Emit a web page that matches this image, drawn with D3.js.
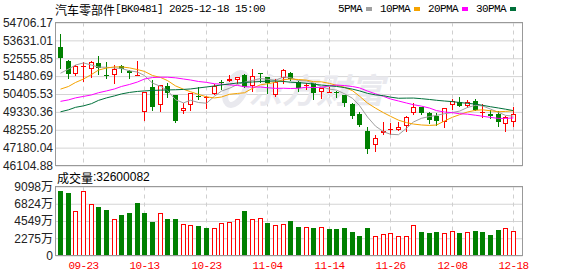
<!DOCTYPE html>
<html>
<head>
<meta charset="utf-8">
<script src="https://cdn.jsdelivr.net/npm/d3@7"></script>
<style>
  html, body { margin: 0; padding: 0; background: #fff; }
  svg { display: block; }
</style>
</head>
<body>
<svg id="chart" width="578" height="276"></svg>
<script>
// trading days shown (09-18 .. 12-18)
const dates = ['09-18','09-19','09-22','09-23','09-24','09-25','09-26','09-29','09-30','10-09',
  '10-10','10-13','10-14','10-15','10-16','10-17','10-20','10-21','10-22','10-23',
  '10-24','10-27','10-28','10-29','10-30','10-31','11-03','11-04','11-05','11-06',
  '11-07','11-10','11-11','11-12','11-13','11-14','11-17','11-18','11-19','11-20',
  '11-21','11-24','11-25','11-26','11-27','11-28','12-01','12-02','12-03','12-04',
  '12-05','12-08','12-09','12-10','12-11','12-12','12-15','12-16','12-17','12-18'];

const open = [53233,52396,51595,52060,51936,52294,51565,51577,52097,51816,
  51559,49304,50841,49741,50901,50321,49406,49741,50290,50207,
  50399,51098,51176,51236,51577,50901,51678,51439,50339,51379,
  51697,51140,50925,51039,50500,50530,50542,50339,49783,49227,
  48186,47313,48031,48270,48270,48509,49245,49603,49245,49083,
  48706,49741,49902,49705,50004,49332,49203,49203,48587,48706];
const high = [54029,52432,52127,52336,52384,52695,52336,52133,52127,51846,
  52372,50530,51236,50961,51039,50351,49843,50471,50817,50261,
  50979,51236,51577,51457,51637,51936,51678,51457,51278,51894,
  51757,51158,51039,51039,50770,50841,50560,50351,49843,49346,
  48449,47911,48706,48647,48706,49065,49843,49633,49346,49286,
  49574,50082,50201,50040,50082,49783,49442,49406,49065,49645];
const low = [51977,51338,51577,51176,51439,51637,51338,51080,51738,51379,
  51535,48844,49442,49382,50243,48724,49245,49442,50124,49585,
  50381,50680,51158,51039,50829,50578,51140,50482,50279,51039,
  51260,50578,50680,50082,50183,50500,50243,49705,48987,48509,
  46853,46954,48019,47989,48258,48150,49215,49185,48647,48545,
  48425,49484,49693,49603,49424,49047,48946,48485,48210,48485];
const close = [52593,51595,52097,52110,52336,51977,51535,51936,51894,51678,
  51577,50500,49645,50937,50441,48784,49544,50441,50261,50225,
  50901,51080,51278,51439,50841,51475,51660,51039,51140,51834,
  51278,50781,50937,50482,50740,50542,50500,49843,49107,48545,
  47110,47750,48186,48318,48425,49047,49645,49286,48844,48784,
  49544,50004,49705,49944,49442,49346,49065,48706,49047,49185];

// volume in 万 (10k shares)
const volume = [8563,8202,5887,8563,6824,6422,6021,4777,5352,5620,
  6864,5660,4456,5579,4817,4817,4108,3974,3840,3613,
  3572,4241,4415,4777,5887,4777,4910,4282,3974,4108,
  4549,3746,3746,3613,3746,3479,3479,3613,3077,2542,
  3613,2636,2810,2944,2636,2542,4014,3077,2944,3077,
  2944,3211,2944,3077,3211,3077,2676,3345,3572,3260.0082];

// moving-average values before the window fills
const ma5Head = [51655,51906,52145,52276];
const ma10Head = [50698,50859,51098,51307,51577,51846,51966,52037,52037];
const ma20Head = [49962,50052,50172,50261,50351,50483,50590,50710,50859,50979,
  51128,51307,51397,51415,51415,51379,51307,51248,51158];
const ma30Head = [49334,49454,49603,49693,49825,50022,50172,50291,50411,50500,
  50560,50590,50620,50638,50650,50662,50680,50710,50770,50829,
  50889,50949,51009,51068,51098,51128,51158,51176,51188];

const priceTicks = [46104.88,47180.04,48255.20,49330.36,50405.53,51480.69,52555.85,53631.01,54706.17];
const volTicks = [0,2275,4549,6824,9098];
const dateTicks = ['09-23','10-13','10-23','11-04','11-14','11-26','12-08','12-18'];

const RED = '#ff0000', GREEN = '#008000';
const MONO = '"Liberation Mono", monospace';
const SANS = '"Liberation Sans", Arial, "Noto Sans CJK SC", sans-serif';
const CJK = '"Noto Sans CJK SC", sans-serif';

const frame = {left: 55.5, right: 522.5, top: 22.5, bottom: 165.5, vTop: 186.5, vBottom: 255.5};

const svg = d3.select('#chart');

const x = d3.scaleBand().domain(dates).range([56, 517]);
const cx = d => Math.round(x(d) + x.bandwidth() / 2);
const y = d3.scaleLinear().domain([priceTicks[0], priceTicks[priceTicks.length - 1]]).range([frame.bottom, frame.top]);
const yv = d3.scaleLinear().domain([0, volTicks[volTicks.length - 1]]).range([frame.vBottom, frame.vTop]);

const movingAverage = (n, head) => close.map((c, i) =>
  i < n - 1 ? head[i] : d3.mean(close.slice(i - n + 1, i + 1)));

const mas = [
  {name: '5PMA', color: '#a0a0a0', values: movingAverage(5, ma5Head)},
  {name: '10PMA', color: '#f5a300', values: movingAverage(10, ma10Head)},
  {name: '20PMA', color: '#ff00ff', values: movingAverage(20, ma20Head)},
  {name: '30PMA', color: '#00703a', values: movingAverage(30, ma30Head)},
];

// title
const title = svg.append('text').attr('x', 55).attr('y', 9).attr('dominant-baseline', 'central').attr('fill', '#000');
title.append('tspan').attr('font-family', CJK).attr('font-size', 12).text('汽车零部件');
title.append('tspan').attr('font-family', MONO).attr('font-size', 11).attr('letter-spacing', -0.6).text('[BK0481] 2025-12-18 15:00');

// legend
let lx = 338;
mas.forEach(m => {
  svg.append('text').attr('x', lx).attr('y', 9).attr('dominant-baseline', 'central')
    .attr('font-family', MONO).attr('font-size', 11).attr('letter-spacing', -0.6)
    .text(m.name);
  lx += m.name.length * 6 + 4;
  svg.append('rect').attr('x', lx).attr('y', 7).attr('width', 6).attr('height', 4).attr('fill', m.color);
  lx += 6 + 8;
});

// price gridlines + labels
svg.append('g')
  .attr('transform', `translate(${frame.left},0)`)
  .call(d3.axisLeft(y).tickValues(priceTicks).tickFormat(d3.format('.2f'))
    .tickSize(-(frame.right - frame.left)).tickPadding(2.5))
  .call(g => g.select('.domain').remove())
  .call(g => g.selectAll('.tick line').attr('stroke', '#d4d4d4'))
  .call(g => g.selectAll('.tick text').attr('font-family', SANS).attr('font-size', 12).attr('fill', '#222'));

// volume gridlines + labels
svg.append('g')
  .attr('transform', `translate(${frame.left},0)`)
  .call(d3.axisLeft(yv).tickValues(volTicks).tickFormat(d => d === 0 ? '0' : d + '万')
    .tickSize(-(frame.right - frame.left)).tickPadding(2.5))
  .call(g => g.select('.domain').remove())
  .call(g => g.selectAll('.tick line').attr('stroke', '#d4d4d4'))
  .call(g => g.selectAll('.tick text').attr('font-family', SANS).attr('font-size', 12).attr('fill', '#222'));

// dashed date lines
[[frame.top, frame.bottom], [frame.vTop, frame.vBottom]].forEach(([t, b]) => {
  svg.append('g').selectAll('line').data(dateTicks).join('line')
    .attr('x1', d => cx(d) + 0.5).attr('x2', d => cx(d) + 0.5)
    .attr('y1', t).attr('y2', b)
    .attr('stroke', '#cfcfcf').attr('stroke-dasharray', '4,4');
});

// date labels
svg.append('g').selectAll('text').data(dateTicks).join('text')
  .attr('x', d => cx(d) + 0.5).attr('y', 266)
  .attr('text-anchor', 'middle').attr('dominant-baseline', 'central')
  .attr('font-family', MONO).attr('font-size', 11).attr('letter-spacing', -0.6)
  .attr('fill', RED).text(d => d);

// watermark (logo + name)
const wm = svg.append('g').attr('fill', 'none').attr('stroke', '#e9e9ee');
wm.append('ellipse').attr('cx', 236).attr('cy', 89).attr('rx', 9).attr('ry', 17)
  .attr('stroke-width', 6).attr('transform', 'rotate(25 236 89)');
svg.append('text').attr('x', 248).attr('y', 103)
  .attr('font-family', CJK).attr('font-size', 34).attr('font-weight', 'bold')
  .attr('font-style', 'italic').attr('fill', '#e9e9ee')
  .text('东方财富');

// candles
const candles = dates.map((d, i) => ({d, o: open[i], h: high[i], l: low[i], c: close[i]}));
const cg = svg.append('g');
candles.forEach(k => {
  const up = k.c >= k.o;
  const col = up ? RED : GREEN;
  const px = cx(k.d);
  const top = Math.round(y(Math.max(k.o, k.c)));
  const bot = Math.round(y(Math.min(k.o, k.c)));
  cg.append('line').attr('x1', px + 0.5).attr('x2', px + 0.5)
    .attr('y1', Math.round(y(k.h))).attr('y2', Math.round(y(k.l)) + 1)
    .attr('stroke', col);
  if (up && bot - top >= 2) {
    cg.append('rect').attr('x', px - 1.5).attr('y', top + 0.5)
      .attr('width', 4).attr('height', bot - top - 1)
      .attr('fill', '#fff').attr('stroke', col);
  } else {
    cg.append('rect').attr('x', px - 2).attr('y', top)
      .attr('width', 5).attr('height', Math.max(1, bot - top))
      .attr('fill', col);
  }
});

// moving averages
const line = vals => d3.line().x((v, i) => cx(dates[i]) + 0.5).y(v => y(v))(vals);
svg.append('g').selectAll('path').data(mas).join('path')
  .attr('d', m => line(m.values))
  .attr('fill', 'none').attr('stroke', m => m.color).attr('stroke-width', 1);

// volume bars (colour by close vs previous close)
const vg = svg.append('g');
volume.forEach((v, i) => {
  const up = i === 0 ? close[0] >= open[0] : close[i] >= close[i - 1];
  const px = cx(dates[i]);
  const top = Math.round(yv(v));
  const bot = Math.round(yv(0));
  if (up) {
    vg.append('rect').attr('x', px - 1.5).attr('y', top + 0.5)
      .attr('width', 4).attr('height', bot - top - 1)
      .attr('fill', '#fff').attr('stroke', RED);
  } else {
    vg.append('rect').attr('x', px - 2).attr('y', top)
      .attr('width', 5).attr('height', bot - top).attr('fill', GREEN);
  }
});

// volume title
const vt = svg.append('text').attr('x', 57).attr('y', 177).attr('dominant-baseline', 'central').attr('fill', '#000');
vt.append('tspan').attr('font-family', CJK).attr('font-size', 12).text('成交量');
vt.append('tspan').attr('font-family', SANS).attr('font-size', 12)
  .text(':' + Math.round(volume[volume.length - 1] * 10000));

// frames
[[frame.top, frame.bottom], [frame.vTop, frame.vBottom]].forEach(([t, b]) => {
  svg.append('rect').attr('x', frame.left).attr('y', t)
    .attr('width', frame.right - frame.left).attr('height', b - t)
    .attr('fill', 'none').attr('stroke', '#999');
});
</script>
</body>
</html>
